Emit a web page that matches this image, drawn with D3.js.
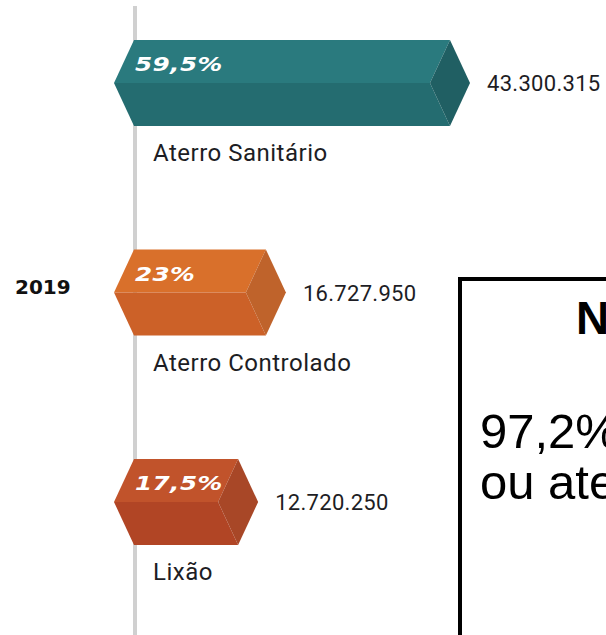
<!DOCTYPE html>
<html>
<head>
<meta charset="utf-8">
<script src="https://cdn.jsdelivr.net/npm/d3@7"></script>
<style>
  html, body { margin: 0; padding: 0; background: #fff; overflow: hidden; }
  svg { display: block; }
</style>
</head>
<body>
<svg id="chart" width="606" height="635"></svg>
<script>
// ---- data ----
const categories = ["Aterro Sanitário", "Aterro Controlado", "Lixão"];
const values = [43300315, 16727950, 12720250];
const valueLabels = ["43.300.315", "16.727.950", "12.720.250"];
const percentLabels = ["59,5%", "23%", "17,5%"];
const topColors = ["#2a7a7e", "#d9702b", "#c1532b"];
const frontColors = ["#246c70", "#cc6128", "#b14525"];
const endColors = ["#205f63", "#bf632b", "#a84727"];
const yearLabel = "2019";
const noteTitle = "N";
const noteLines = ["97,2%", "ou ate"];

const svg = d3.select("#chart");
const W = 606, H = 635;

const x = d3.scaleLinear().domain([0, d3.max(values)]).range([150, 450]);
const y = d3.scalePoint().domain(categories).range([83, 502]);
const half = 43, leftX = 134, tip = 20;

// axis line
svg.append("line")
  .attr("x1", 135).attr("x2", 135)
  .attr("y1", 6).attr("y2", H)
  .attr("stroke", "#d0d0d0").attr("stroke-width", 4);

const data = categories.map((c, i) => ({
  c, v: values[i], vl: valueLabels[i], pl: percentLabels[i],
  top: topColors[i], front: frontColors[i], end: endColors[i]
}));

const g = svg.selectAll("g.bar").data(data).join("g").attr("class", "bar");

g.append("path").attr("fill", d => d.top)
  .attr("d", d => {
    const cy = y(d.c), xr = x(d.v);
    return `M${leftX - tip},${cy} L${leftX},${cy - half} L${xr},${cy - half} L${xr - tip},${cy} Z`;
  });
g.append("path").attr("fill", d => d.front)
  .attr("d", d => {
    const cy = y(d.c), xr = x(d.v);
    return `M${leftX - tip},${cy} L${xr - tip},${cy} L${xr},${cy + half} L${leftX},${cy + half} Z`;
  });
g.append("path").attr("fill", d => d.end)
  .attr("d", d => {
    const cy = y(d.c), xr = x(d.v);
    return `M${xr - tip},${cy} L${xr},${cy - half} L${xr + tip},${cy} L${xr},${cy + half} Z`;
  });

g.append("text")
  .attr("transform", d => `translate(${leftX + 1},${y(d.c) - 12}) scale(1.3,1)`)
  .attr("fill", "#fff")
  .attr("font-family", "DejaVu Sans")
  .attr("font-weight", "bold").attr("font-style", "italic")
  .attr("font-size", 19).attr("letter-spacing", 0.3)
  .text(d => d.pl);

g.append("text")
  .attr("x", d => x(d.v) + tip + 17).attr("y", d => y(d.c) + 8)
  .attr("fill", "#1d1d24")
  .attr("font-family", "Roboto")
  .attr("font-size", 22).attr("letter-spacing", 0.3)
  .text(d => d.vl);

g.append("text")
  .attr("x", 153).attr("y", d => y(d.c) + half + 35)
  .attr("fill", "#1d1d24")
  .attr("font-family", "Roboto")
  .attr("font-size", 24).attr("letter-spacing", 0.5)
  .text(d => d.c);

svg.append("text")
  .attr("x", 15).attr("y", 294)
  .attr("fill", "#111")
  .attr("font-family", "DejaVu Sans").attr("font-weight", "bold")
  .attr("font-size", 20).attr("letter-spacing", 0)
  .text(yearLabel);

// note box
svg.append("rect")
  .attr("x", 460).attr("y", 279)
  .attr("width", 300).attr("height", 500)
  .attr("fill", "none").attr("stroke", "#000").attr("stroke-width", 4);

svg.append("text")
  .attr("x", 576).attr("y", 334)
  .attr("font-family", "Liberation Sans").attr("font-weight", "bold")
  .attr("font-size", 46).attr("fill", "#000")
  .text(noteTitle);

svg.append("g").selectAll("text").data(noteLines).join("text")
  .attr("x", 480).attr("y", (d, i) => 448 + i * 51)
  .attr("font-family", "Liberation Sans")
  .attr("font-size", 49).attr("fill", "#000")
  .text(d => d);
</script>
</body>
</html>
